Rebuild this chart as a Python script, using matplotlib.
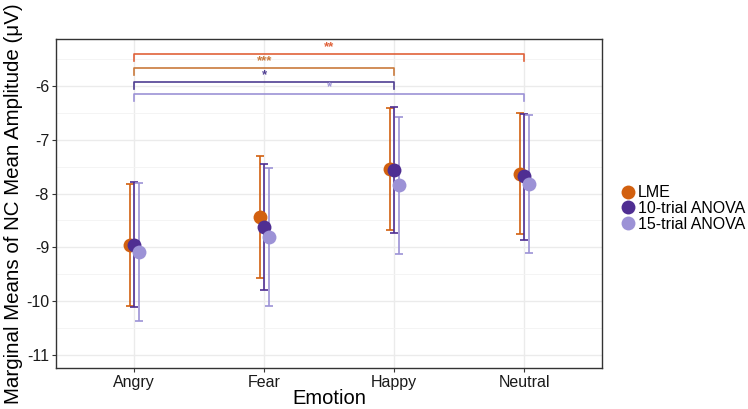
import matplotlib
matplotlib.use("Agg")
import matplotlib.pyplot as plt
import numpy as np

plt.rcParams['font.family'] = ['Liberation Sans', 'DejaVu Sans']

emotions = ["Angry", "Fear", "Happy", "Neutral"]
series = ["LME", "10-trial ANOVA", "15-trial ANOVA"]
colors = ["#D2600F", "#4F2E92", "#9C92D6"]

lme_mean = [-8.96, -8.44, -7.55, -7.63]
lme_low = [-10.08, -9.57, -8.67, -8.76]
lme_high = [-7.82, -7.31, -6.41, -6.51]

a10_mean = [-8.95, -8.63, -7.57, -7.68]
a10_low = [-10.11, -9.80, -8.73, -8.86]
a10_high = [-7.78, -7.46, -6.40, -6.52]

a15_mean = [-9.08, -8.81, -7.85, -7.82]
a15_low = [-10.36, -10.08, -9.12, -9.11]
a15_high = [-7.80, -7.53, -6.58, -6.54]

# significance brackets: (from, to, y, label, color)
sig_from = ["Angry", "Angry", "Angry", "Angry"]
sig_to = ["Neutral", "Happy", "Happy", "Neutral"]
sig_y = [-5.41, -5.67, -5.92, -6.15]
sig_label = ["**", "***", "*", "*"]
sig_colors = ["#E0623A", "#C97A3C", "#4F3E92", "#9C92D6"]

fig = plt.figure(figsize=(7.48, 4.09), dpi=100)
ax = fig.add_axes([0.0749, 0.1002, 0.7305, 0.8044])

x = np.arange(1, len(emotions) + 1)
offsets = [-0.035, 0.0, 0.035]
means = [lme_mean, a10_mean, a15_mean]
lows = [lme_low, a10_low, a15_low]
highs = [lme_high, a10_high, a15_high]

for i in range(3):
    m = np.array(means[i]); lo = np.array(lows[i]); hi = np.array(highs[i])
    ax.errorbar(x + offsets[i], m, yerr=[m - lo, hi - m], fmt='none',
                ecolor=colors[i], elinewidth=1.2, capsize=3, capthick=1.2, zorder=3)
for i in range(3):
    ax.plot(x + offsets[i], means[i], 'o', color=colors[i], markersize=10,
            label=series[i], zorder=4, markeredgewidth=0)

tip = 0.13
for f, t, y, lab, c in zip(sig_from, sig_to, sig_y, sig_label, sig_colors):
    x0 = emotions.index(f) + 1
    x1 = emotions.index(t) + 1
    ax.plot([x0, x0, x1, x1], [y - tip, y, y, y - tip], color=c, lw=1.2, zorder=3)
    ax.text((x0 + x1) / 2, y + 0.01, lab, color=c, ha='center', va='bottom',
            fontsize=9.5, fontweight='bold')

ax.set_xlim(0.4, 4.6)
ax.set_ylim(-11.24, -5.13)
ax.set_xticks(x)
ax.set_xticklabels(emotions)
ax.set_yticks([-11, -10, -9, -8, -7, -6])
ax.set_yticklabels(["-11", "-10", "-9", "-8", "-7", "-6"])
ax.set_yticks(np.arange(-11, -5.0, 0.5), minor=True)
ax.grid(True, which='major', color='#EBEBEB', lw=1.0, zorder=0)
ax.grid(True, which='minor', axis='y', color='#F3F3F3', lw=0.6, zorder=0)
ax.set_axisbelow(True)
ax.tick_params(axis='both', which='major', labelsize=11.5, color='#333333',
               length=3, labelcolor='#1a1a1a', pad=2)
ax.tick_params(axis='both', which='minor', length=0)
for s in ax.spines.values():
    s.set_color('#333333')
    s.set_linewidth(1.0)

ax.set_xlabel("Emotion", fontsize=14.5, labelpad=-1)
ax.set_ylabel("Marginal Means of NC Mean Amplitude (μV)", fontsize=14.8, labelpad=2)

leg = fig.legend(loc='center left', bbox_to_anchor=(0.818, 0.49), frameon=False,
                 fontsize=11.5, handletextpad=0.05, labelspacing=0.05,
                 handlelength=1.2, borderaxespad=0)

fig.savefig("out.png", dpi=100)
